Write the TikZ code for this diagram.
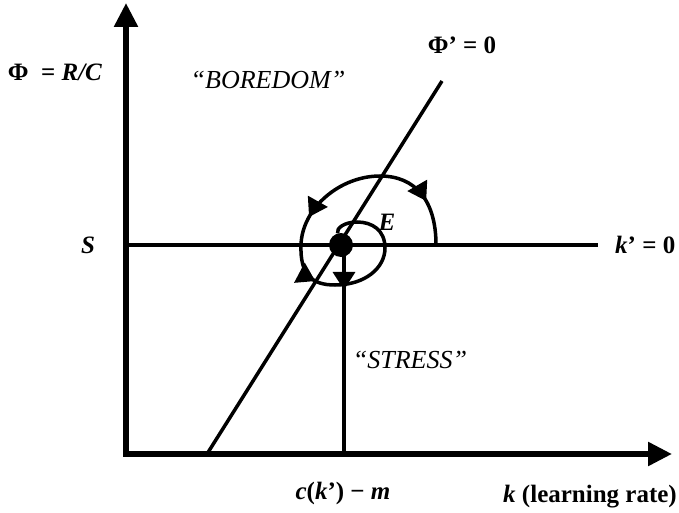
\documentclass[tikz,border=0pt]{standalone}
\usepackage{fontspec}
\setmainfont{Liberation Serif}
\usetikzlibrary{arrows.meta,decorations.markings,positioning}

\tikzset{
    axis/.style={line width=5.5pt},
    curve/.style={line width=3.5pt},
    lbl/.style={font=\fontsize{25}{29}\selectfont\bfseries, inner sep=0pt},
    note/.style={font=\fontsize{26}{30}\selectfont\itshape, inner sep=0pt},
    bigtip/.tip={Triangle[length=24pt,width=23pt]},
    flowtip/.tip={Triangle[length=18pt,width=22pt]}
}

\begin{document}
\begin{tikzpicture}[x=1pt,y=1pt]
    \useasboundingbox (0,0) rectangle (679,512);

    % Axes
    \coordinate (O) at (126,58);
    \coordinate (ytop) at (126,509);
    \coordinate (xend) at (672,58);
    \draw[axis, bigtip-bigtip] (ytop) -- (O) -- (xend);

    % Nullclines
    \coordinate (kl) at (126,267);
    \coordinate (kr) at (598,267);
    \coordinate (pb) at (207,58);
    \coordinate (pt) at (442,431);
    \coordinate (cm) at (344,58);
    \draw[curve] (kl) -- (kr);
    \draw[curve] (pb) -- (pt);

    % Equilibrium
    \node[circle, fill, minimum size=24pt, inner sep=0pt] (E) at (341,267) {};
    \draw[curve, postaction=decorate,
        decoration={markings, mark=at position 0.215 with {\arrow{flowtip}}}]
        (E -| cm) -- (cm);

    % Trajectory
    \draw[curve, postaction=decorate,
        decoration={markings,
            mark=at position 0.11 with {\arrowreversed{flowtip}},
            mark=at position 0.45 with {\arrow{flowtip}},
            mark=at position 0.62 with {\arrow{flowtip}}}]
        (436,267) .. controls (436,312) and (415,336) .. (380,336)
        .. controls (340,336) and (302,304) .. (301,267)
        .. controls (300,237) and (312,227) .. (335,227)
        .. controls (365,227) and (385,244) .. (385,264)
        .. controls (385,282) and (372,290) .. (357,290)
        .. controls (345,290) and (336,284) .. (E);

    % Labels
    \node[lbl] (phi) at (55,440) {Φ\ \ = \textit{R/C}};
    \node[note] (bore) at (268,432) {“BOREDOM”};
    \node[note] (stress) at (410,152) {“STRESS”};
    \node[lbl] (S) at (88,267) {\textit{S}};
    \node[lbl] (El) at (387,290) {\textit{E}};
    \node[lbl] (phin) at (462,467) {Φ’ = 0};
    \node[lbl, right=17pt of kr] (kn) {\textit{k}’ = 0};
    \node[lbl] (cml) at (343,19) {\textit{c}(\textit{k}’) − \textit{m}};
    \node[lbl] (klbl) at (590,15) {\textit{k} (learning rate)};
\end{tikzpicture}
\end{document}
